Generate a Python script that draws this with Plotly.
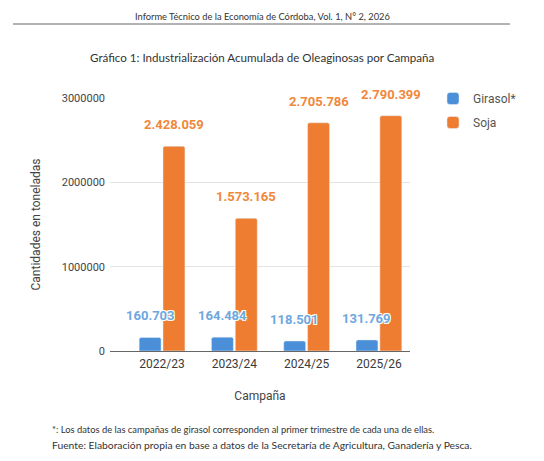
import plotly.graph_objects as go

# datos del grafico
campanas = ["2022/23", "2023/24", "2024/25", "2025/26"]
girasol = [160703, 164484, 118501, 131769]
soja = [2428059, 1573165, 2705786, 2790399]
y_ticks = [0, 1000000, 2000000, 3000000]

AZUL = "#4a8fd8"
NARANJA = "#ee7d31"
AZUL_TXT = "#6ea7e0"
NARANJA_TXT = "#f0873a"

# la pagina deja 8px de margen en el body, se descuenta aqui
OFF = 8
W_FIG, H_FIG = 544 - OFF, 461 - OFF
# area del grafico en pixeles de la imagen de referencia
L, R, T, B = 110, 410, 98, 351


def px_x(x):
    return (x - L) / (R - L)


def px_y(y):
    return (B - y) / (B - T)


def miles(v):
    return f"{v:,}".replace(",", ".")


SOMBRA = "1px 1px 0 white, -1px -1px 0 white, 1px -1px 0 white, -1px 1px 0 white"

fig = go.Figure()
fig.add_trace(go.Bar(x=campanas, y=girasol, name="Girasol*", marker_color=AZUL,
                     marker_cornerradius=2, legendgroup="a"))
fig.add_trace(go.Bar(x=campanas, y=soja, name="Soja", marker_color=NARANJA,
                     marker_cornerradius=2, legendgroup="b"))

# etiquetas de valores sobre las barras
for c, g, s in zip(campanas, girasol, soja):
    fig.add_annotation(x=c, y=g, xref="x", yref="y", text="<b>" + miles(g) + "</b>",
                       showarrow=False, xshift=-12, yshift=12, yanchor="bottom",
                       font=dict(family="Roboto", size=13, color=AZUL_TXT, shadow=SOMBRA))
    fig.add_annotation(x=c, y=s, xref="x", yref="y", text="<b>" + miles(s) + "</b>",
                       showarrow=False, xshift=12, yshift=12, yanchor="bottom",
                       font=dict(family="Roboto", size=13, color=NARANJA_TXT, shadow=SOMBRA))

texto = "Lato"


def nota(x, y, txt, size):
    fig.add_annotation(x=px_x(x), y=px_y(y), xref="paper", yref="paper", showarrow=False,
                       xanchor="center", yanchor="middle", text=txt,
                       font=dict(family=texto, size=size, color="#333"))


nota(262, 16, "Informe Técnico de la Economía de Córdoba, Vol. 1, N° 2, 2026", 9.3)
fig.add_shape(type="line", xref="paper", yref="paper",
              x0=px_x(13), x1=px_x(510), y0=px_y(24), y1=px_y(24),
              line=dict(color="#666", width=1))
nota(262, 57, "Gráfico 1: Industrialización Acumulada de Oleaginosas por Campaña", 11.6)
nota(243, 429, "*: Los datos de las campañas de girasol corresponden al primer trimestre de cada una de ellas.", 9.4)
nota(262, 445, "Fuente: Elaboración propia en base a datos de la Secretaría de Agricultura, Ganadería y Pesca.", 10.3)

fig.update_layout(
    width=W_FIG, height=H_FIG,
    margin=dict(l=L - OFF, r=W_FIG - (R - OFF), t=T - OFF, b=H_FIG - (B - OFF)),
    paper_bgcolor="white", plot_bgcolor="white",
    barmode="group", bargap=0.34, bargroupgap=0.08,
    font=dict(family="Roboto", size=11, color="#444"),
    legend=dict(x=px_x(433), y=px_y(84), xanchor="left", yanchor="top",
                font=dict(family="Roboto", size=12, color="#555"),
                traceorder="grouped", tracegroupgap=5, itemwidth=30),
    showlegend=True,
)
fig.update_xaxes(range=[-0.72, 3.43], showline=True, linecolor="#666", linewidth=1,
                 showgrid=False, ticklabelstandoff=2, tickfont=dict(size=12, color="#3a3a3a"),
                 title=dict(text="Campaña", font=dict(size=12, color="#444"), standoff=21))
fig.update_yaxes(range=[0, 3000000], tickvals=y_ticks, tickformat="d",
                 gridcolor="#e3e3e3", zeroline=False, ticklabelstandoff=4,
                 tickfont=dict(size=11, color="#444"),
                 title=dict(text="Cantidades en toneladas", font=dict(size=12, color="#444"), standoff=18))

fig.write_html("out.html")
